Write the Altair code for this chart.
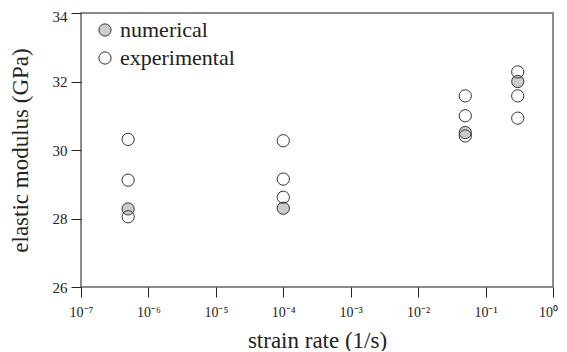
import altair as alt
import pandas as pd

# data
numerical_rate = [5e-7, 1e-4, 0.05, 0.3]
numerical_modulus = [28.28, 28.30, 30.51, 32.0]

experimental_rate = [5e-7, 5e-7, 5e-7, 1e-4, 1e-4, 1e-4, 0.05, 0.05, 0.05, 0.3, 0.3, 0.3]
experimental_modulus = [30.31, 29.12, 28.05, 30.27, 29.15, 28.62, 31.58, 31.0, 30.41, 32.28, 31.58, 30.93]

x_ticks = [1e-7, 1e-6, 1e-5, 1e-4, 1e-3, 1e-2, 1e-1, 1e0]
x_tick_labels = ["10⁻⁷", "10⁻⁶", "10⁻⁵", "10⁻⁴", "10⁻³", "10⁻²", "10⁻¹", "10⁰"]
y_ticks = [26, 28, 30, 32, 34]

series_names = ["numerical", "experimental"]
series_fills = ["#cccccc", "transparent"]

rows = []
for r, m in zip(numerical_rate, numerical_modulus):
    rows.append({"rate": r, "modulus": m, "type": "numerical"})
for r, m in zip(experimental_rate, experimental_modulus):
    rows.append({"rate": r, "modulus": m, "type": "experimental"})
df = pd.DataFrame(rows)

label_expr = "[" + ",".join("'%s'" % s for s in x_tick_labels) + "][round(log(datum.value)/LN10)+7]"

FONT = "Liberation Serif"

chart = alt.Chart(df).mark_point(
    filled=True, shape="circle", size=150, stroke="#333333", strokeWidth=1, opacity=1
).encode(
    x=alt.X("rate:Q",
            scale=alt.Scale(type="log", domain=[1e-7, 1], nice=False),
            axis=alt.Axis(values=x_ticks, labelExpr=label_expr, title="strain rate (1/s)",
                          grid=False, domain=False, tickSize=10, tickColor="#222",
                          labelFlush=False, labelOverlap=False,
                          labelOffset={"condition": {"test": "datum.value >= 0.5", "value": -5}, "value": 0},
                          labelFontSize=14, titleFontSize=23, labelPadding=8, titlePadding=10,
                          labelFont=FONT, titleFont=FONT, titleFontWeight="normal",
                          labelColor="#222", titleColor="#222")),
    y=alt.Y("modulus:Q",
            scale=alt.Scale(domain=[26, 34], nice=False, zero=False),
            axis=alt.Axis(values=y_ticks, title="elastic modulus (GPa)",
                          grid=False, domain=False, tickSize=10, tickColor="#222",
                          labelFlush=False, labelOverlap=False,
                          labelOffset={"condition": {"test": "datum.value >= 33.5", "value": 3}, "value": 0},
                          labelFontSize=15, titleFontSize=23, labelPadding=4, titlePadding=20,
                          labelFont=FONT, titleFont=FONT, titleFontWeight="normal",
                          labelColor="#222", titleColor="#222")),
    fill=alt.Fill("type:N",
                  scale=alt.Scale(domain=series_names, range=series_fills),
                  legend=alt.Legend(title=None, orient="none", legendX=13, legendY=6,
                                    symbolType="circle", symbolSize=150,
                                    symbolStrokeColor="#333333", symbolStrokeWidth=1,
                                    labelFont=FONT, labelFontSize=22, labelColor="#222",
                                    rowPadding=6, labelOffset=4)),
    order=alt.Order("order:Q"),
).transform_calculate(
    order="datum.type == 'numerical' ? 0 : 1"
).properties(
    width=472, height=274,
    padding={"left": 73, "top": 5, "right": 6, "bottom": 64},
    autosize=alt.AutoSizeParams(type="none"),
).configure_view(
    stroke="#666666", strokeWidth=1.5
)

chart.save("out.html", embed_options={"renderer": "svg", "actions": False})
